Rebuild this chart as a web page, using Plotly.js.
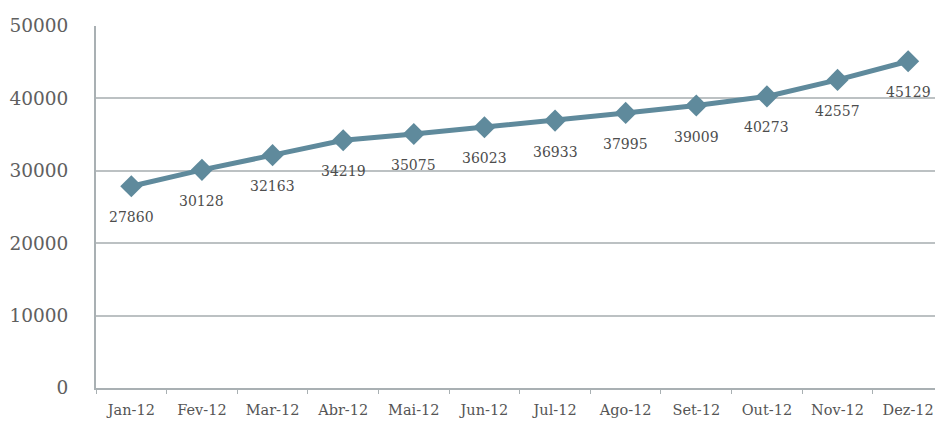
<!DOCTYPE html>
<html>
<head>
<meta charset="utf-8">
<script src="https://cdn.plot.ly/plotly-3.0.1.min.js"></script>
<style>html,body{margin:0;padding:0;background:#fff;}#chart{width:935px;height:423px;}</style>
</head>
<body>
<div id="chart"></div>
<script>
const months = ["Jan-12","Fev-12","Mar-12","Abr-12","Mai-12","Jun-12","Jul-12","Ago-12","Set-12","Out-12","Nov-12","Dez-12"];
const values = [27860,30128,32163,34219,35075,36023,36933,37995,39009,40273,42557,45129];
const yTicks = [0,10000,20000,30000,40000,50000];

const lineColor = "#5f8a9c";
const serif = "DejaVu Serif, Liberation Serif, serif";

const trace = {
  x: months,
  y: values,
  type: "scatter",
  mode: "lines+markers",
  line: {color: lineColor, width: 5},
  marker: {symbol: "diamond", size: 17, color: lineColor},
  hoverinfo: "skip",
  cliponaxis: false
};

const annotations = months.map((m, i) => ({
  x: m, y: values[i], xref: "x", yref: "y",
  text: String(values[i]), showarrow: false,
  yshift: -31,
  font: {family: serif, size: 14, color: "#4d4d4d"}
}));

const layout = {
  width: 935, height: 423,
  margin: {l: 96, r: 0, t: 26, b: 35},
  paper_bgcolor: "#fff", plot_bgcolor: "#fff",
  showlegend: false,
  xaxis: {
    type: "category",
    range: [-0.5, 11.38],
    showgrid: false,
    showline: true, linecolor: "#a9b0b3", linewidth: 2,
    ticks: "outside", tickson: "boundaries", ticklen: 4, tickcolor: "#a9b0b3",
    ticklabelstandoff: 8,
    tickfont: {family: serif, size: 14.5, color: "#555"},
    zeroline: false
  },
  yaxis: {
    range: [0, 50000],
    tickvals: yTicks,
    ticktext: yTicks.map(String),
    showgrid: true, gridcolor: "#bcc1c3", gridwidth: 2,
    showline: true, linecolor: "#a9b0b3", linewidth: 2,
    ticks: "", ticklabelstandoff: 22,
    tickfont: {family: serif, size: 18.5, color: "#606060"},
    zeroline: false
  },
  annotations: annotations
};

Plotly.newPlot("chart", [trace], layout, {displayModeBar: false, staticPlot: true});
</script>
</body>
</html>
